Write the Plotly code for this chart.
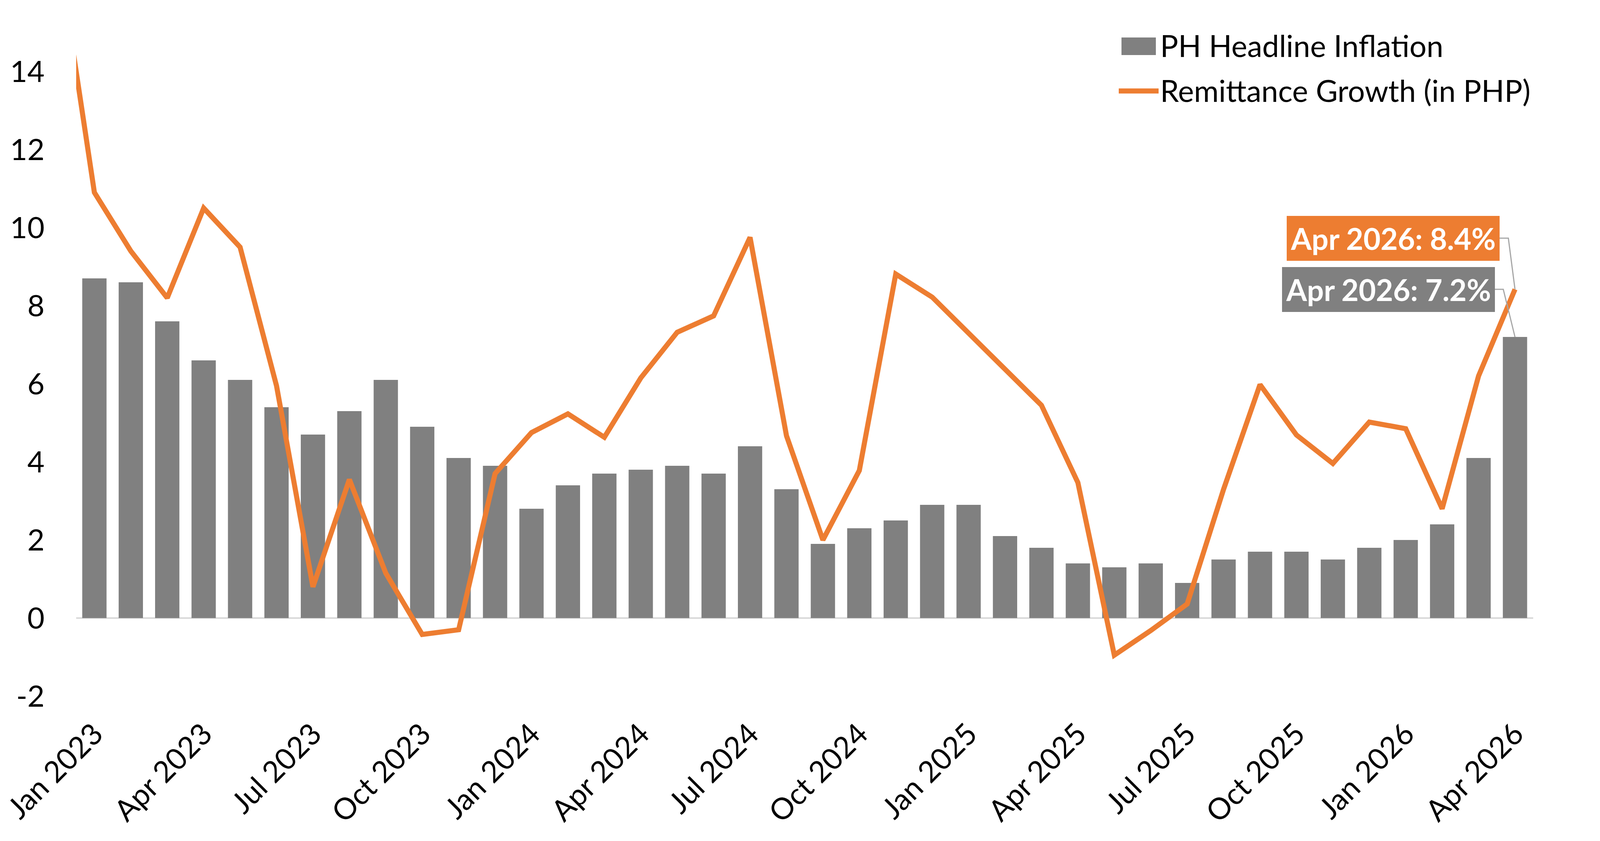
import plotly.graph_objects as go

# ---------------- data ----------------
months = ["Jan 2023", "Feb 2023", "Mar 2023", "Apr 2023", "May 2023", "Jun 2023",
          "Jul 2023", "Aug 2023", "Sep 2023", "Oct 2023", "Nov 2023", "Dec 2023",
          "Jan 2024", "Feb 2024", "Mar 2024", "Apr 2024", "May 2024", "Jun 2024",
          "Jul 2024", "Aug 2024", "Sep 2024", "Oct 2024", "Nov 2024", "Dec 2024",
          "Jan 2025", "Feb 2025", "Mar 2025", "Apr 2025", "May 2025", "Jun 2025",
          "Jul 2025", "Aug 2025", "Sep 2025", "Oct 2025", "Nov 2025", "Dec 2025",
          "Jan 2026", "Feb 2026", "Mar 2026", "Apr 2026"]

# remittance series starts one month earlier (its first segment is clipped by the axis)
remit_months = ["Dec 2022"] + months

inflation = [8.7, 8.6, 7.6, 6.6, 6.1, 5.4, 4.7, 5.3, 6.1, 4.9, 4.1, 3.9,
             2.8, 3.4, 3.7, 3.8, 3.9, 3.7, 4.4, 3.3, 1.9, 2.3, 2.5, 2.9,
             2.9, 2.1, 1.8, 1.4, 1.3, 1.4, 0.9, 1.5, 1.7, 1.7, 1.5, 1.8,
             2.0, 2.4, 4.1, 7.2]

remittance = [17.1,
              10.9, 9.4, 8.2, 10.5, 9.5, 5.95, 0.8, 3.55, 1.15, -0.42, -0.3, 3.7,
              4.75, 5.23, 4.63, 6.15, 7.32, 7.74, 9.75, 4.67, 2.0, 3.78, 8.81, 8.22,
              7.3, 6.38, 5.45, 3.47, -0.95, -0.32, 0.36, 3.3, 5.98, 4.69, 3.96, 5.02,
              4.85, 2.8, 6.2, 8.42]

x_tick_labels = ["Jan 2023", "Apr 2023", "Jul 2023", "Oct 2023", "Jan 2024", "Apr 2024",
                 "Jul 2024", "Oct 2024", "Jan 2025", "Apr 2025", "Jul 2025", "Oct 2025",
                 "Jan 2026", "Apr 2026"]
y_tick_vals = [-2, 0, 2, 4, 6, 8, 10, 12, 14]
y_tick_labels = ["-2", "0", "2", "4", "6", "8", "10", "12", "14"]

series_names = ["PH Headline Inflation", "Remittance Growth (in PHP)"]
last_label = "Apr 2026"

# ---------------- styling ----------------
GRAY = "#808080"
ORANGE = "#ED7D31"
LEADER = "#a6a6a6"
FONT = "Lato"
FS = 76

BODY = 8                     # default page margin of the html body
W, H = 4180 - BODY, 2154 - BODY
L, R, T, B = 195 - BODY, 255, 133 - BODY, 321
PW, PH = W - L - R, H - T - B


def px_x(px):
    return (px - BODY - L) / PW


def px_y(py):
    return (H - B - (py - BODY)) / PH


fig = go.Figure()
fig.add_trace(go.Bar(x=months, y=inflation, name=series_names[0],
                     marker=dict(color=GRAY, line=dict(width=0)), showlegend=False))
fig.add_trace(go.Scatter(x=remit_months, y=remittance, name=series_names[1], mode="lines",
                         line=dict(color=ORANGE, width=13), showlegend=False))

# value call-outs for the latest month (box offsets in pixels from the data point)
callouts = [
    (remittance[-1], ORANGE, -312, 131, -17),
    (inflation[-1], GRAY, -324, 122, -30),
]
BOX_W, BOX_H = 545, 115
for val, col, dx, dy, elbow in callouts:
    fig.add_annotation(x=last_label, y=val, xshift=dx, yshift=dy,
                       text="<b>%s: %.1f%%</b>" % (last_label, val),
                       showarrow=False, bgcolor=col, borderpad=0, borderwidth=0,
                       width=BOX_W, height=BOX_H,
                       font=dict(family=FONT, size=FS, color="white"))
    right = dx + BOX_W / 2
    fig.add_shape(type="path", xref="x", yref="y",
                  xsizemode="pixel", ysizemode="pixel",
                  xanchor=last_label, yanchor=val,
                  path="M%.1f,%.1f L%.1f,%.1f L0,0" % (right, dy, elbow, dy),
                  line=dict(color=LEADER, width=3))

# legend (drawn by hand so the keys can be full size)
fig.add_shape(type="rect", xref="paper", yref="paper",
              x0=px_x(2871), x1=px_x(2959), y0=px_y(141), y1=px_y(96),
              fillcolor=GRAY, line=dict(width=0))
fig.add_shape(type="line", xref="paper", yref="paper",
              x0=px_x(2864), x1=px_x(2966), y0=px_y(233), y1=px_y(233),
              line=dict(color=ORANGE, width=13))
fig.add_annotation(xref="paper", yref="paper", x=px_x(2968), y=px_y(116),
                   xanchor="left", yanchor="middle", showarrow=False,
                   text=series_names[0], font=dict(family=FONT, size=FS + 1, color="black"))
fig.add_annotation(xref="paper", yref="paper", x=px_x(2968), y=px_y(231),
                   xanchor="left", yanchor="middle", showarrow=False,
                   text=series_names[1], font=dict(family=FONT, size=FS + 1, color="black"))

fig.update_layout(
    width=W, height=H,
    margin=dict(l=L, r=R, t=T, b=B, autoexpand=False),
    paper_bgcolor="white", plot_bgcolor="white",
    bargap=0.333,
    font=dict(family=FONT, size=FS, color="black"),
    showlegend=False,
)
fig.update_xaxes(type="category", categoryorder="array", categoryarray=remit_months,
                 range=[0.5, len(remit_months) - 0.5], automargin=False,
                 tickmode="array", tickvals=x_tick_labels, ticktext=x_tick_labels,
                 tickangle=-45, showgrid=False, showline=False, ticks="",
                 tickfont=dict(family=FONT, size=FS, color="black"),
                 ticklabelstandoff=-14)
fig.update_yaxes(range=[-2.5, 14.5], tickmode="array", tickvals=y_tick_vals,
                 ticktext=y_tick_labels, showgrid=False, showline=False, automargin=False,
                 ticks="", zeroline=True, zerolinecolor="#d9d9d9", zerolinewidth=4,
                 tickfont=dict(family=FONT, size=FS, color="black"),
                 ticklabelstandoff=80)

fig.write_html("out.html")
